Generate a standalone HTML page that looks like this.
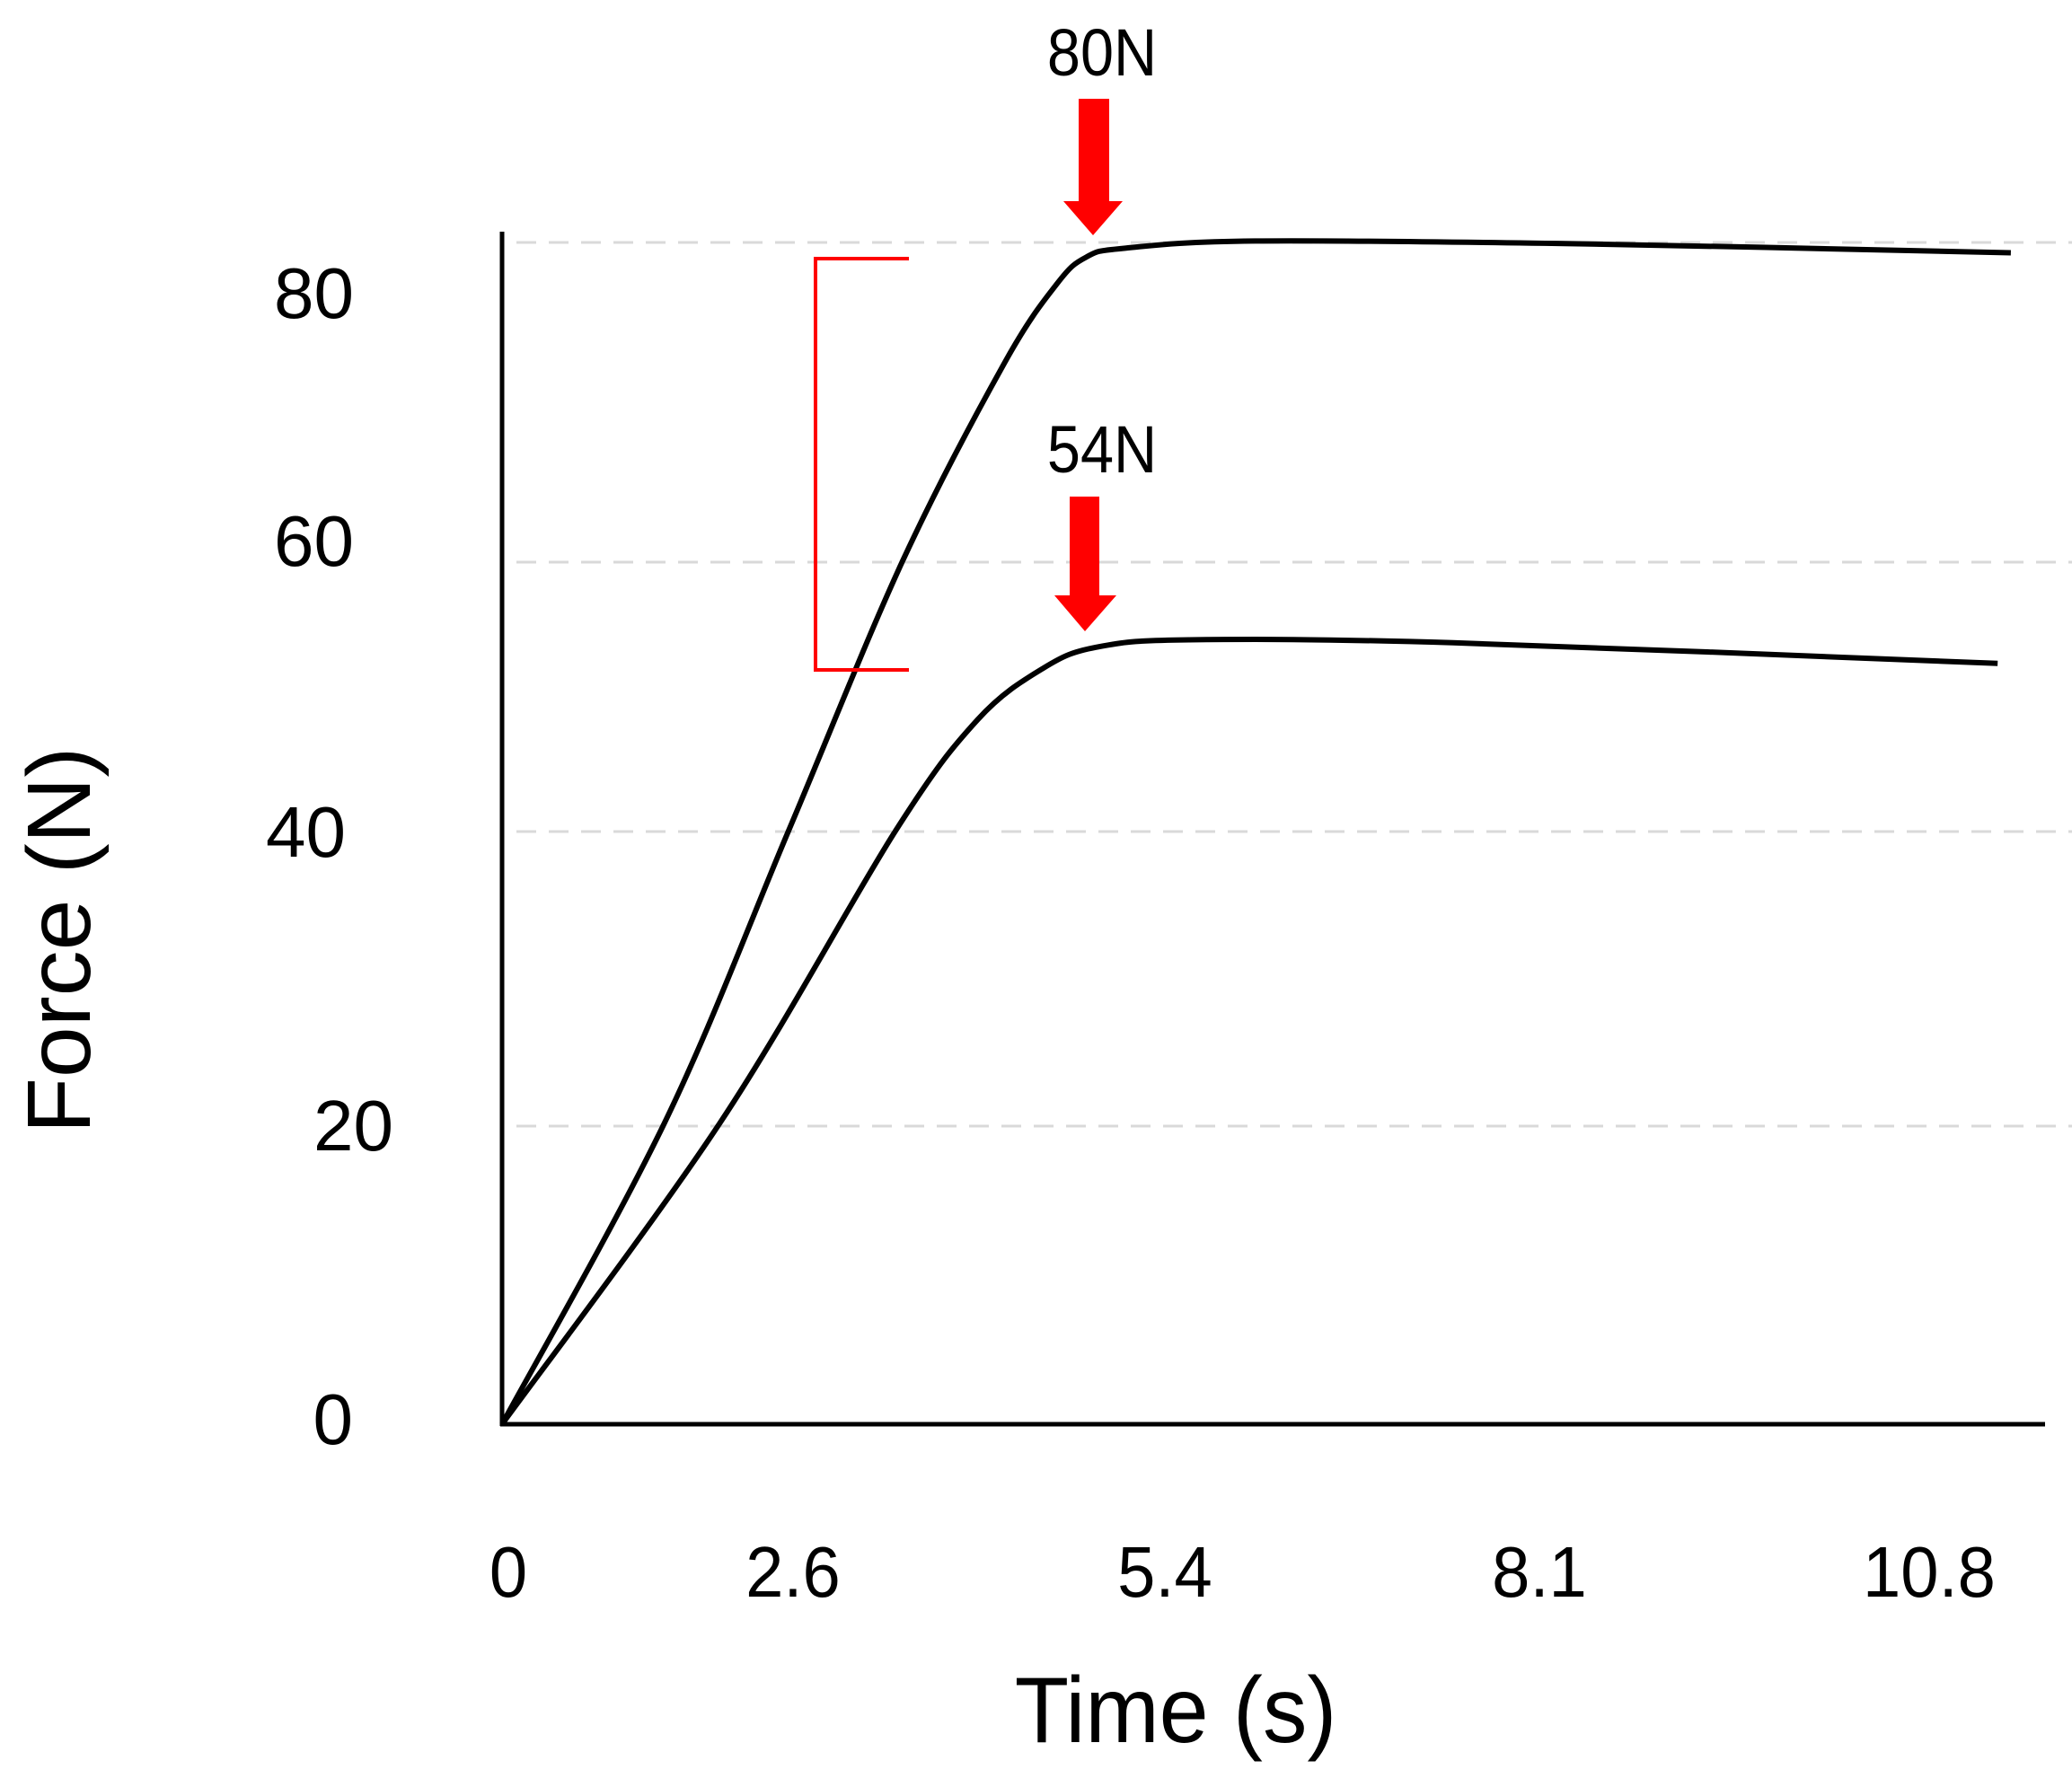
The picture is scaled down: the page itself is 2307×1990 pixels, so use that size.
<!DOCTYPE html>
<html><head><meta charset="utf-8"><style>
html,body{margin:0;padding:0;background:#fff;}
svg{display:block;}
text{font-family:"Liberation Sans",sans-serif;fill:#000;}
</style></head><body>
<svg id="chart" width="2307" height="1990" viewBox="0 0 2307 1990">
<g id="grid"></g>
<g id="axes">
<line x1="559" y1="258" x2="559" y2="1588" stroke="#000" stroke-width="5"/>
<line x1="557" y1="1586" x2="2277" y2="1586" stroke="#000" stroke-width="5"/>
</g>
<g id="yticks"></g>
<g id="xticks"></g>
<text x="1309" y="1940" font-size="104" text-anchor="middle" transform="translate(1309 0) scale(0.95 1) translate(-1309 0)">Time (s)</text>
<text x="0" y="0" font-size="100" text-anchor="middle" transform="translate(100 1047) rotate(-90) scale(1.02 1)">Force (N)</text>
<g id="series"></g>
<g>
<polyline points="1012,288 908,288 908,746 1012,746" fill="none" stroke="#ff0000" stroke-width="4"/>
<text x="1227" y="84" font-size="74" text-anchor="middle" transform="translate(1227 0) scale(0.9 1) translate(-1227 0)">80N</text>
<polygon points="1201,110 1235,110 1235,224 1250,224 1217,262 1184,224 1201,224" fill="#ff0000"/>
<text x="1227" y="526" font-size="74" text-anchor="middle" transform="translate(1227 0) scale(0.9 1) translate(-1227 0)">54N</text>
<polygon points="1191,553 1224,553 1224,663 1243,663 1208,703 1174,663 1191,663" fill="#ff0000"/>
</g>
</svg>
<script>
const yTicks = [0, 20, 40, 60, 80];
const yTickLabels = ["0", "20", "40", "60", "80"];
const xTicks = [0, 2.6, 5.4, 8.1, 10.8];
const xTickLabels = ["0", "2.6", "5.4", "8.1", "10.8"];
const highTime = [0, 1.23, 2.17, 3.03, 3.80, 4.20, 4.42, 4.70, 5.70, 8.20, 11.42];
const highForce = [0, 20.4, 40.2, 58.4, 71.8, 77.2, 79.0, 79.6, 80.1, 79.9, 79.3];
const lowTime = [0, 1.65, 2.98, 3.60, 4.10, 4.50, 5.20, 7.20, 11.32];
const lowForce = [0, 20.4, 40.2, 47.7, 51.2, 52.6, 53.1, 52.9, 51.5];

const NS = "http://www.w3.org/2000/svg";
function xScale(t){ return 559 + t * 147.1; }
function yScale(v){ return 1586 - v * 16.45; }
const gridPos = v => ({20:1254, 40:926, 60:626, 80:270})[v] ?? yScale(v);
const labelY = v => ({0:1608, 20:1281, 40:954, 60:630, 80:354})[v] ?? yScale(v) + 26;
const xLabelX = v => ({0:566, 2.6:883, 5.4:1297, 8.1:1714, 10.8:2148})[v] ?? xScale(v);
const yLabelX = v => ({0:393, 20:438, 40:385, 60:394, 80:394})[v] ?? 394;

const grid = document.getElementById('grid');
yTicks.forEach(v => {
  if (v === 0) return;
  const l = document.createElementNS(NS, 'line');
  l.setAttribute('x1', 575); l.setAttribute('x2', 2307);
  l.setAttribute('y1', gridPos(v)); l.setAttribute('y2', gridPos(v));
  l.setAttribute('stroke', '#d9d9d9'); l.setAttribute('stroke-width', 3);
  l.setAttribute('stroke-dasharray', '22 14');
  
  
  grid.appendChild(l);
});
const yt = document.getElementById('yticks');
yTicks.forEach((v, i) => {
  const t = document.createElementNS(NS, 'text');
  t.setAttribute('x', yLabelX(v)); t.setAttribute('y', labelY(v));
  t.setAttribute('font-size', 80); t.setAttribute('text-anchor', 'end');
  t.textContent = yTickLabels[i];
  
  
  yt.appendChild(t);
});
const xt = document.getElementById('xticks');
xTicks.forEach((v, i) => {
  const t = document.createElementNS(NS, 'text');
  const x = xLabelX(v);
  t.setAttribute('x', x); t.setAttribute('y', 1778);
  t.setAttribute('font-size', 80); t.setAttribute('text-anchor', 'middle');
  t.setAttribute('transform', `translate(${x} 0) scale(0.95 1) translate(${-x} 0)`);
  t.textContent = xTickLabels[i];
  
  
  xt.appendChild(t);
});
const series = document.getElementById('series');
function smoothPath(pts){
  let d = `M${pts[0][0].toFixed(1)},${pts[0][1].toFixed(1)}`;
  for (let i = 0; i < pts.length - 1; i++) {
    const p0 = pts[Math.max(0, i-1)], p1 = pts[i], p2 = pts[i+1], p3 = pts[Math.min(pts.length-1, i+2)];
    const c1 = [p1[0] + (p2[0]-p0[0])/6, p1[1] + (p2[1]-p0[1])/6];
    const c2 = [p2[0] - (p3[0]-p1[0])/6, p2[1] - (p3[1]-p1[1])/6];
    d += ` C${c1[0].toFixed(1)},${c1[1].toFixed(1)} ${c2[0].toFixed(1)},${c2[1].toFixed(1)} ${p2[0].toFixed(1)},${p2[1].toFixed(1)}`;
  }
  return d;
}
function drawLine(ts, fs, name){
  const p = document.createElementNS(NS, 'path');
  p.setAttribute('d', smoothPath(ts.map((t, i) => [xScale(t), yScale(fs[i])])));
  p.setAttribute('fill', 'none'); p.setAttribute('stroke', '#000');
  p.setAttribute('stroke-width', 6); p.setAttribute('stroke-linejoin', 'round');
  
  
  series.appendChild(p);
}
drawLine(highTime, highForce, 'line-80n');
drawLine(lowTime, lowForce, 'line-54n');
</script>
</body></html>
